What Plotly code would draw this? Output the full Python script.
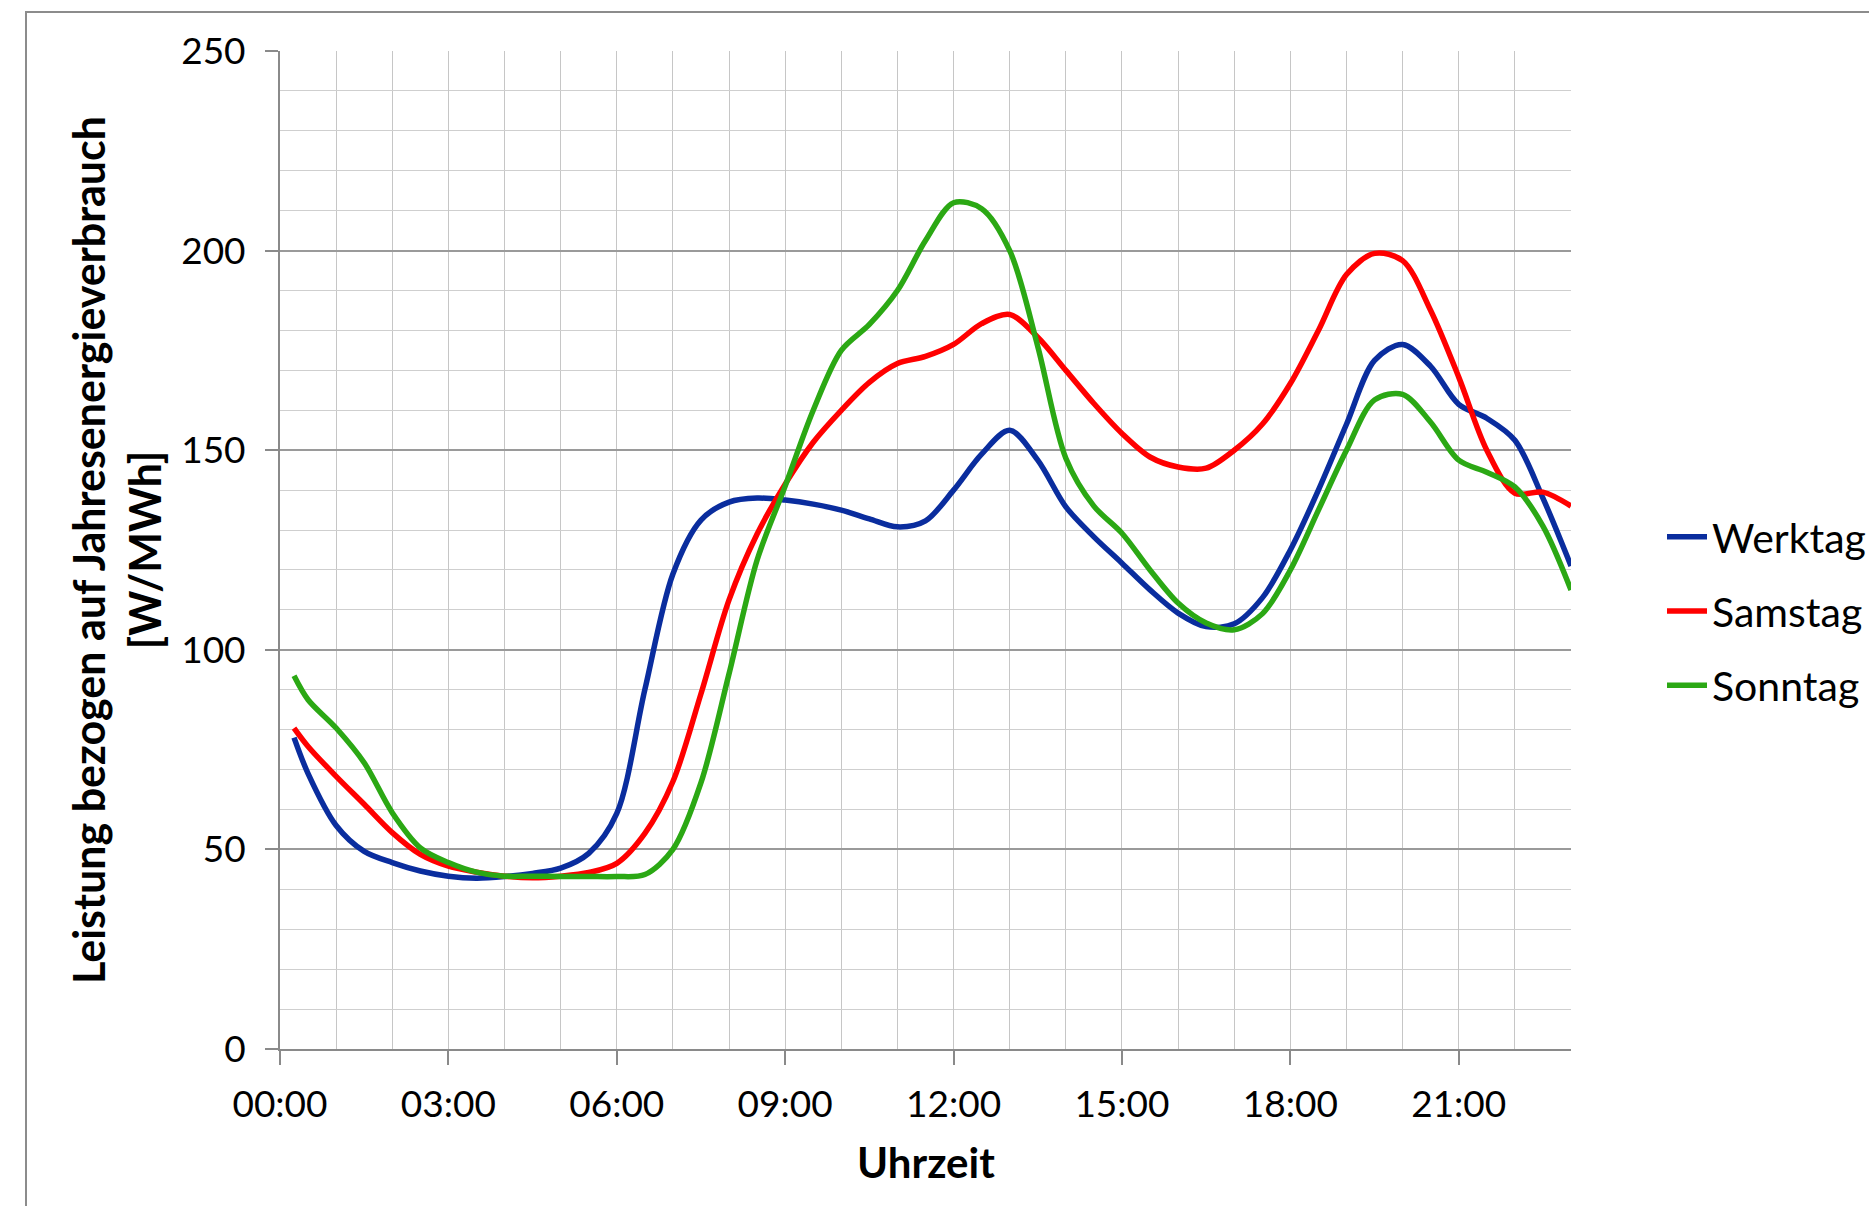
import plotly.graph_objects as go

# Time of day in hours
hours = [0.25, 0.5, 1.0, 1.5, 2.0, 2.5, 3.0, 3.5, 4.0, 4.5, 5.0, 5.5, 6.0, 6.5, 7.0, 7.5,
         8.0, 8.5, 9.0, 9.5, 10.0, 10.5, 11.0, 11.5, 12.0, 12.5, 13.0, 13.5, 14.0, 14.5,
         15.0, 15.5, 16.0, 16.5, 17.0, 17.5, 18.0, 18.5, 19.0, 19.5, 20.0, 20.5, 21.0,
         21.5, 22.0, 22.5, 23.0]

werktag = [78, 69, 56, 49.5, 46.7, 44.6, 43.3, 42.8, 43.2, 44, 45.3, 49, 59, 90, 119, 132.5,
           137, 138, 137.5, 136.5, 135, 132.8, 130.8, 132.3, 140, 149, 155, 147.5, 135.8, 128.3,
           121.7, 115, 109.2, 105.8, 106.5, 113, 125, 140, 156.5, 172.5, 176.5, 171, 161.5,
           158, 152.5, 138, 121]

samstag = [80.4, 75.8, 68.3, 61.3, 54.2, 48.75, 45.8, 44.3, 43.3, 42.9, 43.3, 44.2, 46.5, 54, 67, 89,
           112.5, 129, 141.5, 152, 160, 167, 171.7, 173.5, 176.5, 181.7, 184, 178.3, 170, 161.7,
           154.2, 148.3, 145.8, 145.5, 150, 156.5, 166.7, 180, 194, 199.3, 197.5, 185, 168.3,
           150, 139.2, 139.5, 136]

sonntag = [93.5, 87.5, 80.4, 71.7, 59.2, 50.4, 46.7, 44.3, 43.3, 43.3, 43.2, 43.2, 43.2, 43.7, 50, 66.7,
           94, 122.5, 141, 160, 175, 181.5, 190, 202.5, 212, 210.5, 200, 176, 148, 136,
           129.2, 120, 111.7, 106.7, 105, 109, 120, 135, 150, 162.6, 164, 157, 147.5,
           144.5, 140.8, 131, 115]

series_names = ["Werktag", "Samstag", "Sonntag"]
series_colors = ["#0A2D9E", "#FF0000", "#2BA814"]

tick_hours = [0, 3, 6, 9, 12, 15, 18, 21]
tick_labels = ["00:00", "03:00", "06:00", "09:00", "12:00", "15:00", "18:00", "21:00"]

FONT = "Lato"

fig = go.Figure()
for name, vals, col in zip(series_names, [werktag, samstag, sonntag], series_colors):
    fig.add_trace(go.Scatter(
        x=hours, y=vals, name=name, mode="lines", legendgroup=name,
        line=dict(color=col, width=5.5, shape="spline", smoothing=0.9),
        cliponaxis=True,
    ))

W, H = 1869, 1206
L, R, T, B = 280, 1571, 51, 1049

fig.update_layout(
    width=W, height=H,
    margin=dict(l=L, r=W - R, t=T, b=H - B, pad=0, autoexpand=False),
    paper_bgcolor="white", plot_bgcolor="white",
    font=dict(family=FONT, size=37, color="#000000"),
    showlegend=True,
    legend=dict(x=(1662 - L) / (R - L), y=(B - 611) / (B - T), xanchor="left", yanchor="middle",
                font=dict(family=FONT, size=41, color="#000000"),
                tracegroupgap=18, itemwidth=40, bgcolor="rgba(0,0,0,0)"),
    xaxis=dict(
        range=[0, 23], tickmode="array", tickvals=tick_hours, ticktext=tick_labels,
        showgrid=True, gridcolor="#c6c6c6", gridwidth=1.2,
        minor=dict(dtick=1, tick0=0, showgrid=True, gridcolor="#c6c6c6", gridwidth=1.2, ticks=""),
        ticks="outside", ticklen=14, tickcolor="#8a8a8a", tickwidth=1.5,
        showline=True, linecolor="#8a8a8a", linewidth=2,
        zeroline=False, ticklabelstandoff=8,
        tickfont=dict(family=FONT, size=37, color="#000000"),
    ),
    yaxis=dict(
        range=[0, 250], tickmode="linear", tick0=0, dtick=50,
        showgrid=True, gridcolor="#9a9a9a", gridwidth=1.5,
        minor=dict(dtick=10, tick0=0, showgrid=True, gridcolor="#cfcfcf", gridwidth=1.2, ticks=""),
        ticks="outside", ticklen=13, tickcolor="#8a8a8a", tickwidth=1.5,
        showline=True, linecolor="#8a8a8a", linewidth=2,
        zeroline=False, ticklabelstandoff=12,
        tickfont=dict(family=FONT, size=37, color="#000000"),
    ),
)

# Axis titles
fig.add_annotation(
    text="<b>Leistung bezogen auf Jahresenergieverbrauch<br>[W/MWh]</b>",
    xref="paper", yref="paper", x=(116 - L) / (R - L), y=0.5,
    xanchor="center", yanchor="middle", textangle=-90, showarrow=False,
    font=dict(family=FONT, size=43, color="#000000"),
)
fig.add_annotation(
    text="<b>Uhrzeit</b>",
    xref="paper", yref="paper", x=0.5, y=(B - 1162) / (B - T),
    xanchor="center", yanchor="middle", showarrow=False,
    font=dict(family=FONT, size=42, color="#000000"),
)

# Outer chart border (extends past the right and bottom edges)
fig.add_shape(
    type="rect", xref="paper", yref="paper",
    x0=(26 - L) / (R - L), x1=(W + 50 - L) / (R - L),
    y0=(B - (H + 50)) / (B - T), y1=(B - 12) / (B - T),
    line=dict(color="#8c8c8c", width=2), fillcolor="rgba(0,0,0,0)", layer="below",
)

fig.write_html("out.html", config={"displayModeBar": False},
               post_script="document.body.style.margin='0';")
